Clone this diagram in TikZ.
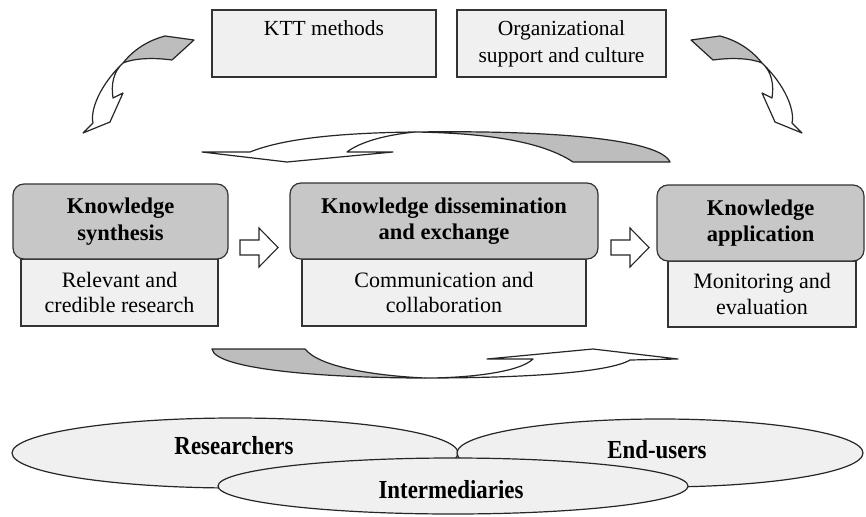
\documentclass[tikz,border=0pt]{standalone}
\usepackage{fontspec}
\setmainfont{Liberation Serif}
\newfontfamily\narrowserif[FakeStretch=0.88]{Liberation Serif}
\usetikzlibrary{shapes.geometric}
\definecolor{hdrgray}{gray}{0.78}
\definecolor{lightbox}{gray}{0.94}
\definecolor{ribgray}{gray}{0.74}
\begin{document}
\begin{tikzpicture}[x=1pt,y=-1pt,
  boxline/.style={draw=black!80, line width=1.2pt},
  topbox/.style={boxline, fill=lightbox, minimum height=67pt, inner sep=0pt, align=center, font=\fontsize{21.5}{27}\selectfont},
  subbox/.style={boxline, fill=lightbox, inner sep=0pt, align=center, font=\fontsize{22}{25.5}\selectfont},
  hdr/.style={boxline, fill=hdrgray, rounded corners=11pt, inner sep=0pt, align=center, font=\bfseries\fontsize{22.5}{26.5}\selectfont},
  blockarrow/.style={draw=black!85, line width=1.1pt, fill=white, line join=miter},
  ribbon/.style={draw=black!85, line width=1.2pt, line join=round},
  ell/.style={ellipse, draw=black!85, line width=1.2pt, fill=lightbox, inner sep=0pt},
  elabel/.style={font=\narrowserif\bfseries\fontsize{26}{28}\selectfont, inner sep=0pt}
]
\useasboundingbox[fill=white] (0,0) rectangle (866,516);

% top boxes
\node[topbox, minimum width=224pt] (ktt) at (324,43.5) {KTT methods\\\phantom{g}};
\node[topbox, minimum width=209pt] (org) at (561.5,43.5) {Organizational\\support and culture};

% top-left twisted arrow
\draw[ribbon, fill=ribgray] (123,63) .. controls (135,48) and (150,40) .. (165,36) -- (194,40) -- (172,60) .. controls (150,57) and (132,59) .. (123,63) -- cycle;
\draw[ribbon, fill=white] (123,63) .. controls (100,85) and (90,110) .. (93,123) -- (83,133) -- (110,122) -- (123,93) -- (113,98) .. controls (111,85) and (113,72) .. (123,63) -- cycle;

% top-right twisted arrow
\draw[ribbon, fill=ribgray] (762,63) .. controls (750,48) and (735,40) .. (720,36) -- (691,40) -- (713,60) .. controls (735,57) and (753,59) .. (762,63) -- cycle;
\draw[ribbon, fill=white] (762,63) .. controls (785,85) and (795,110) .. (792,123) -- (802,133) -- (775,122) -- (762,93) -- (772,98) .. controls (774,85) and (772,72) .. (762,63) -- cycle;

% upper middle twisted arrow (pointing left)
\draw[ribbon, fill=ribgray] (415,132) .. controls (560,130) and (660,140) .. (670,162) -- (573,162) .. controls (540,140) and (480,133) .. (415,132) -- cycle;
\draw[ribbon, fill=white] (415,132) .. controls (330,133) and (280,140) .. (250,152) -- (202,152) -- (287,162) -- (393,152) -- (347,152) .. controls (360,142) and (385,135) .. (415,132) -- cycle;

% lower twisted arrow (pointing right)
\draw[ribbon, fill=ribgray] (212,349) -- (305,349) .. controls (320,368) and (380,376) .. (425,378) .. controls (330,378) and (215,370) .. (212,349) -- cycle;
\draw[ribbon, fill=white] (425,378) .. controls (530,378) and (610,372) .. (630,360) -- (678,359) -- (593,349) -- (487,359) -- (533,359) .. controls (520,372) and (470,378) .. (425,378) -- cycle;

% main stages
\node[subbox, minimum width=197pt, minimum height=67pt] (s1) at (119.5,292.5) {Relevant and\\credible research};
\node[hdr, minimum width=215pt, minimum height=75pt] (h1) at (120.5,221.5) {Knowledge\\synthesis};

\node[subbox, minimum width=284pt, minimum height=67pt] (s2) at (444,292.5) {Communication and\\collaboration};
\node[hdr, minimum width=308pt, minimum height=76pt] (h2) at (444,221) {Knowledge dissemination\\and exchange};

\node[subbox, minimum width=188pt, minimum height=66pt] (s3) at (762,294) {Monitoring and\\evaluation};
\node[hdr, minimum width=207pt, minimum height=76pt] (h3) at (760.5,223) {Knowledge\\application};

% block arrows between stages
\draw[blockarrow] (240,240) -- (259,240) -- (259,228) -- (278,247.5) -- (259,267) -- (259,255) -- (240,255) -- cycle;
\draw[blockarrow] (611,240) -- (630,240) -- (630,228) -- (649,247.5) -- (630,267) -- (630,255) -- (611,255) -- cycle;

% actor ellipses
\node[ell, minimum width=446pt, minimum height=70pt] (resE) at (235,453) {};
\node[ell, minimum width=406pt, minimum height=68pt] (endE) at (660,453) {};
\node[ell, minimum width=470pt, minimum height=56pt] (intE) at (453,486) {};
\node[elabel] (res) at (234,446) {Researchers};
\node[elabel] (end) at (657,450) {End-users};
\node[elabel] (int) at (451,490) {Intermediaries};
\end{tikzpicture}
\end{document}
